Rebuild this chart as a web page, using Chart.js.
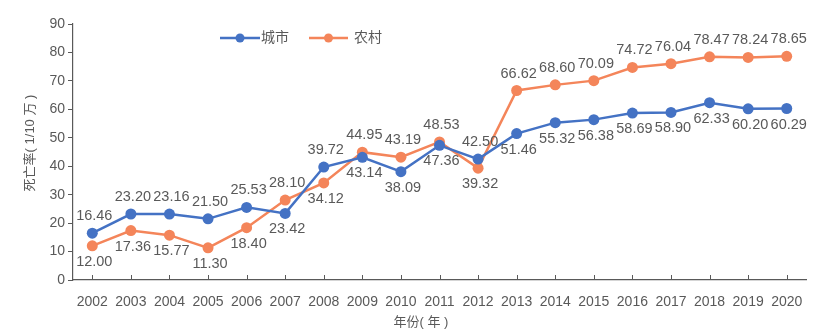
<!DOCTYPE html>
<html>
<head>
<meta charset="utf-8">
<script src="https://cdn.jsdelivr.net/npm/chart.js@4.4.1/dist/chart.umd.min.js"></script>
<style>
  html, body { margin: 0; padding: 0; background: #fff; }
  #wrap { width: 831px; height: 333px; }
</style>
</head>
<body>
<div id="wrap"><canvas id="chart"></canvas></div>
<script>
const years = ['2002', '2003', '2004', '2005', '2006', '2007', '2008', '2009', '2010', '2011',
  '2012', '2013', '2014', '2015', '2016', '2017', '2018', '2019', '2020']
const cityRates = [16.46, 23.20, 23.16, 21.50, 25.53, 23.42, 39.72, 43.14, 38.09, 47.36,
  42.50, 51.46, 55.32, 56.38, 58.69, 58.90, 62.33, 60.20, 60.29]
const ruralRates = [12.00, 17.36, 15.77, 11.30, 18.40, 28.10, 34.12, 44.95, 43.19, 48.53,
  39.32, 66.62, 68.60, 70.09, 74.72, 76.04, 78.47, 78.24, 78.65]
const yTicks = [0, 10, 20, 30, 40, 50, 60, 70, 80, 90]

// where each value label sits relative to its point
const cityLabelSide = ['up', 'up', 'up', 'up', 'up', 'down', 'up', 'down', 'down', 'down',
  'up', 'down', 'down', 'down', 'down', 'down', 'down', 'down', 'down']
const ruralLabelSide = ['down', 'down', 'down', 'down', 'down', 'up', 'down', 'up', 'up', 'up',
  'down', 'up', 'up', 'up', 'up', 'up', 'up', 'up', 'up']

const BLUE = '#4472C4'
const ORANGE = '#F4855A'
const GREY = '#595959'
const FONT = '"Liberation Sans", "Noto Sans CJK SC", sans-serif'

const valueLabels = {
  id: 'valueLabels',
  afterDatasetsDraw: function (chart) {
    const ctx = chart.ctx
    ctx.save()
    ctx.font = '14.5px ' + FONT
    ctx.fillStyle = GREY
    ctx.textAlign = 'center'
    ctx.textBaseline = 'middle'
    chart.data.datasets.forEach(function (ds, i) {
      chart.getDatasetMeta(i).data.forEach(function (pt, j) {
        const dy = ds.labelSide[j] === 'up' ? -17 : 16
        ctx.fillText(ds.data[j].toFixed(2), pt.x + 2, pt.y + dy)
      })
    })
    ctx.restore()
  }
}

// x tick marks point up into the plot, axis titles and the legend drawn by hand
const decorations = {
  id: 'decorations',
  afterDraw: function (chart) {
    const ctx = chart.ctx
    const x = chart.scales.x
    const area = chart.chartArea
    ctx.save()
    ctx.strokeStyle = GREY
    ctx.lineWidth = 1
    years.forEach(function (y, i) {
      const px = Math.round(x.getPixelForValue(i)) + 0.5
      ctx.beginPath()
      ctx.moveTo(px, area.bottom - 5)
      ctx.lineTo(px, area.bottom)
      ctx.stroke()
    })

    ctx.fillStyle = GREY
    ctx.font = '13px ' + FONT
    ctx.textAlign = 'center'
    ctx.textBaseline = 'middle'
    ctx.fillText('年份( 年 )', 421, 322)

    ctx.save()
    ctx.translate(30, 143)
    ctx.rotate(-Math.PI / 2)
    ctx.fillText('死亡率( 1/10 万 )', 0, 0)
    ctx.restore()

    const items = [
      { text: '城市', color: BLUE, x0: 220, x1: 260, tx: 261 },
      { text: '农村', color: ORANGE, x0: 309, x1: 348, tx: 354 }
    ]
    ctx.font = '14px ' + FONT
    ctx.textAlign = 'left'
    items.forEach(function (it) {
      ctx.strokeStyle = it.color
      ctx.lineWidth = 2.5
      ctx.beginPath()
      ctx.moveTo(it.x0, 38)
      ctx.lineTo(it.x1, 38)
      ctx.stroke()
      ctx.fillStyle = it.color
      ctx.beginPath()
      ctx.arc((it.x0 + it.x1) / 2, 38, 4.5, 0, Math.PI * 2)
      ctx.fill()
      ctx.fillStyle = GREY
      ctx.fillText(it.text, it.tx, 38)
    })
    ctx.restore()
  }
}

new Chart(document.getElementById('chart'), {
  type: 'line',
  data: {
    labels: years,
    datasets: [
      {
        label: '城市',
        data: cityRates,
        labelSide: cityLabelSide,
        borderColor: BLUE,
        backgroundColor: BLUE,
        borderWidth: 2.5,
        pointRadius: 5.5,
        pointBackgroundColor: BLUE,
        pointBorderWidth: 0,
        tension: 0
      },
      {
        label: '农村',
        data: ruralRates,
        labelSide: ruralLabelSide,
        borderColor: ORANGE,
        backgroundColor: ORANGE,
        borderWidth: 2.5,
        pointRadius: 5.5,
        pointBackgroundColor: ORANGE,
        pointBorderWidth: 0,
        tension: 0
      }
    ]
  },
  options: {
    responsive: true,
    maintainAspectRatio: false,
    animation: false,
    layout: { padding: { top: 24, right: 25, left: 0, bottom: 0 } },
    plugins: {
      legend: { display: false },
      tooltip: { enabled: false }
    },
    scales: {
      x: {
        type: 'category',
        offset: true,
        grid: { display: false },
        border: { display: true, color: GREY, width: 1.2 },
        ticks: {
          color: GREY,
          font: { family: FONT, size: 14 },
          padding: 6,
          maxRotation: 0,
          autoSkip: false
        },
        afterFit: function (s) { s.height = 53 }
      },
      y: {
        min: 0,
        max: 90,
        afterBuildTicks: function (s) { s.ticks = yTicks.map(function (v) { return { value: v } }) },
        grid: { display: true, drawOnChartArea: false, drawTicks: true, tickLength: 5, color: GREY },
        border: { display: true, color: GREY, width: 1.2 },
        ticks: {
          color: GREY,
          font: { family: FONT, size: 14 },
          padding: 3
        },
        afterFit: function (s) { s.width = 73 }
      }
    }
  },
  plugins: [valueLabels, decorations]
})
</script>
</body>
</html>
